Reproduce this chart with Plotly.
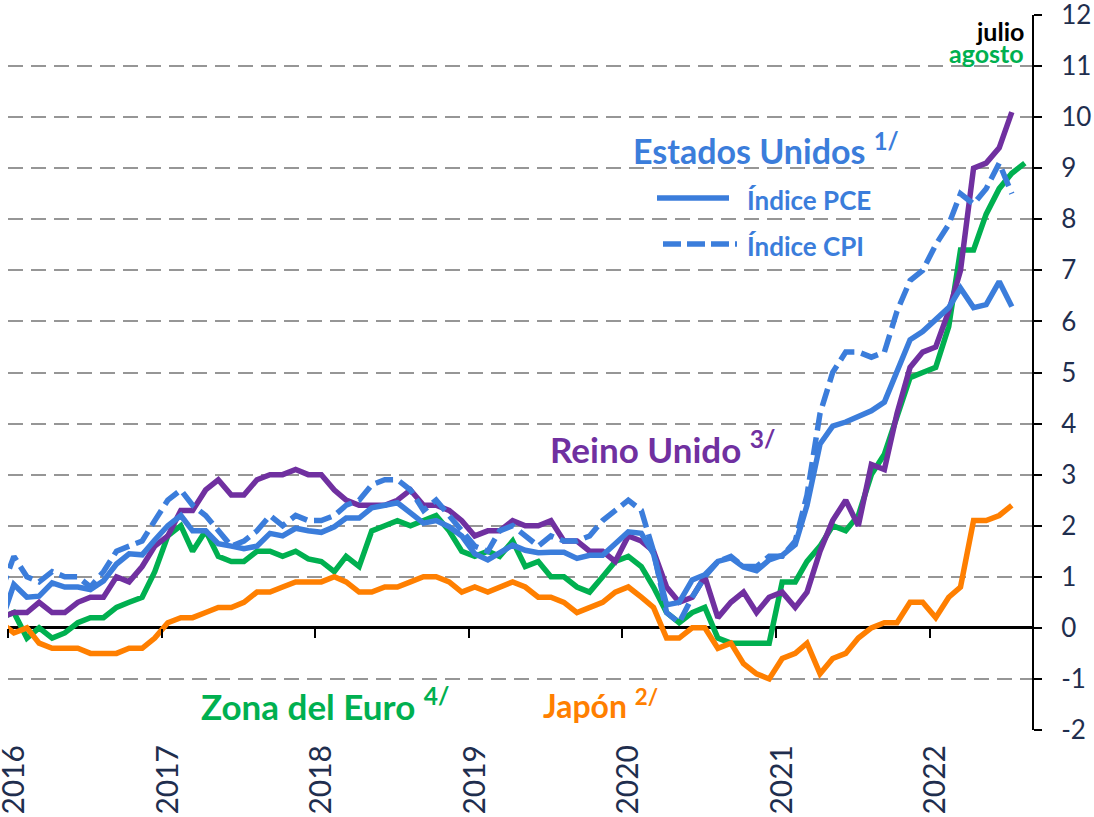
import pandas as pd
import plotly.graph_objects as go

# Monthly dates: Dec 2015 .. Aug 2022 (points plotted mid-month)
months = [d + pd.Timedelta(days=14) for d in pd.date_range("2015-12-01", "2022-08-01", freq="MS")]

# US PCE index, y/y % (Dec 2015 .. Jul 2022)
us_pce = [0.1,
          0.85, 0.6, 0.62, 0.88, 0.8, 0.8, 0.75, 0.92, 1.25, 1.45, 1.43, 1.72,
          2.0, 2.2, 1.9, 1.9, 1.65, 1.6, 1.55, 1.6, 1.85, 1.8, 1.95, 1.9,
          1.87, 1.98, 2.15, 2.15, 2.35, 2.4, 2.45, 2.25, 2.05, 2.1, 1.98, 1.8,
          1.45, 1.33, 1.46, 1.62, 1.52, 1.47, 1.48, 1.48, 1.36, 1.42, 1.42, 1.66,
          1.88, 1.85, 1.45, 0.45, 0.5, 0.94, 1.04, 1.3, 1.37, 1.19, 1.12, 1.33,
          1.42, 1.63, 2.4, 3.6, 3.95, 4.03, 4.15, 4.25, 4.42, 5.05, 5.64, 5.8,
          6.03, 6.27, 6.65, 6.27, 6.33, 6.78, 6.29]

# US CPI, y/y % (Dec 2015 .. Jul 2022)
us_cpi = [0.7,
          1.4, 1.0, 0.9, 1.1, 1.0, 1.0, 0.8, 1.1, 1.5, 1.6, 1.7, 2.1,
          2.5, 2.7, 2.4, 2.2, 1.9, 1.6, 1.7, 1.9, 2.2, 2.0, 2.2, 2.1,
          2.1, 2.2, 2.4, 2.5, 2.8, 2.9, 2.9, 2.7, 2.3, 2.5, 2.2, 1.9,
          1.6, 1.5, 1.9, 2.0, 1.8, 1.6, 1.8, 1.7, 1.7, 1.8, 2.1, 2.3,
          2.5, 2.3, 1.5, 0.3, 0.1, 0.6, 1.0, 1.3, 1.4, 1.2, 1.2, 1.4,
          1.4, 1.7, 2.6, 4.2, 5.0, 5.4, 5.4, 5.3, 5.4, 6.2, 6.8, 7.0,
          7.5, 7.9, 8.5, 8.3, 8.6, 9.1, 8.5]

# United Kingdom CPI, y/y % (Dec 2015 .. Jul 2022)
uk_cpi = [0.2,
          0.3, 0.3, 0.5, 0.3, 0.3, 0.5, 0.6, 0.6, 1.0, 0.9, 1.2, 1.6,
          1.8, 2.3, 2.3, 2.7, 2.9, 2.6, 2.6, 2.9, 3.0, 3.0, 3.1, 3.0,
          3.0, 2.7, 2.5, 2.4, 2.4, 2.4, 2.5, 2.7, 2.4, 2.4, 2.3, 2.1,
          1.8, 1.9, 1.9, 2.1, 2.0, 2.0, 2.1, 1.7, 1.7, 1.5, 1.5, 1.3,
          1.8, 1.7, 1.5, 0.8, 0.5, 0.6, 1.0, 0.2, 0.5, 0.7, 0.3, 0.6,
          0.7, 0.4, 0.7, 1.5, 2.1, 2.5, 2.0, 3.2, 3.1, 4.2, 5.1, 5.4,
          5.5, 6.2, 7.0, 9.0, 9.1, 9.4, 10.1]

# Euro area HICP, y/y % (Dec 2015 .. Aug 2022)
euro_hicp = [0.2,
             0.3, -0.2, 0.0, -0.2, -0.1, 0.1, 0.2, 0.2, 0.4, 0.5, 0.6, 1.1,
             1.8, 2.0, 1.5, 1.9, 1.4, 1.3, 1.3, 1.5, 1.5, 1.4, 1.5, 1.35,
             1.3, 1.1, 1.4, 1.2, 1.9, 2.0, 2.1, 2.0, 2.1, 2.2, 1.9, 1.5,
             1.4, 1.5, 1.4, 1.7, 1.2, 1.3, 1.0, 1.0, 0.8, 0.7, 1.0, 1.3,
             1.4, 1.2, 0.8, 0.3, 0.1, 0.3, 0.4, -0.2, -0.3, -0.3, -0.3, -0.3,
             0.9, 0.9, 1.3, 1.6, 2.0, 1.9, 2.2, 3.0, 3.4, 4.1, 4.9, 5.0,
             5.1, 5.9, 7.4, 7.4, 8.1, 8.6, 8.9, 9.1]

# Japan core CPI, y/y % (Dec 2015 .. Jul 2022)
japan_cpi = [0.1,
             -0.1, 0.0, -0.3, -0.4, -0.4, -0.4, -0.5, -0.5, -0.5, -0.4, -0.4, -0.2,
             0.1, 0.2, 0.2, 0.3, 0.4, 0.4, 0.5, 0.7, 0.7, 0.8, 0.9, 0.9,
             0.9, 1.0, 0.9, 0.7, 0.7, 0.8, 0.8, 0.9, 1.0, 1.0, 0.9, 0.7,
             0.8, 0.7, 0.8, 0.9, 0.8, 0.6, 0.6, 0.5, 0.3, 0.4, 0.5, 0.7,
             0.8, 0.6, 0.4, -0.2, -0.2, 0.0, 0.0, -0.4, -0.3, -0.7, -0.9, -1.0,
             -0.6, -0.5, -0.3, -0.9, -0.6, -0.5, -0.2, 0.0, 0.1, 0.1, 0.5, 0.5,
             0.2, 0.6, 0.8, 2.1, 2.1, 2.2, 2.4]

years = ["2016", "2017", "2018", "2019", "2020", "2021", "2022"]
year_ticks = [f"{y}-01-01" for y in years]
year_labels_pos = [f"{y}-01-15" for y in years]
y_ticks = list(range(-2, 13))
y_ticktext = [str(v) for v in y_ticks]

BLUE = "#3B7DDB"
PURPLE = "#7030A0"
GREEN = "#00B050"
ORANGE = "#FF7F00"
NAVY = "#1F2E4E"
FONT = "Lato"
LW = 5.5
DASH = "18px,7px"

fig = go.Figure()
fig.add_trace(go.Scatter(x=months[:len(euro_hicp)], y=euro_hicp, mode="lines",
                         line=dict(color=GREEN, width=LW), name="Zona del Euro"))
fig.add_trace(go.Scatter(x=months[:len(japan_cpi)], y=japan_cpi, mode="lines",
                         line=dict(color=ORANGE, width=LW), name="Japón"))
fig.add_trace(go.Scatter(x=months[:len(uk_cpi)], y=uk_cpi, mode="lines",
                         line=dict(color=PURPLE, width=LW), name="Reino Unido"))
fig.add_trace(go.Scatter(x=months[:len(us_cpi)], y=us_cpi, mode="lines",
                         line=dict(color=BLUE, width=LW, dash=DASH), name="Índice CPI"))
fig.add_trace(go.Scatter(x=months[:len(us_pce)], y=us_pce, mode="lines",
                         line=dict(color=BLUE, width=LW), name="Índice PCE"))

x_range = ["2016-01-01", "2022-09-01"]

fig.update_layout(
    width=1094, height=817,
    margin=dict(l=8, r=62, t=15, b=87, autoexpand=False),
    paper_bgcolor="white", plot_bgcolor="white",
    showlegend=False,
    font=dict(family=FONT, color=NAVY),
    xaxis=dict(type="date", range=x_range, showgrid=False, zeroline=False,
               showline=False, ticks="", tickvals=year_labels_pos, ticktext=years,
               tickangle=-90, tickfont=dict(family=FONT, size=30, color=NAVY),
               ticklabelstandoff=8, ticklabeloverflow="allow", automargin=False),
    xaxis2=dict(type="date", range=x_range, overlaying="x", anchor="free",
                position=(0 - (-2)) / 14, side="bottom", showgrid=False,
                zeroline=False, showline=False, ticks="outside", ticklen=9,
                tickwidth=2, tickcolor="black", tickvals=year_ticks,
                showticklabels=False, automargin=False),
    yaxis=dict(range=[-2, 12], side="right", tickvals=y_ticks, ticktext=y_ticktext,
               showgrid=True, gridcolor="#969696", gridwidth=2, griddash="15px,8px",
               zeroline=True, zerolinecolor="black", zerolinewidth=2.5,
               showline=True, linecolor="black", linewidth=2,
               ticks="outside", ticklen=8, tickwidth=2, tickcolor="black",
               tickfont=dict(family=FONT, size=26, color=NAVY),
               ticklabelstandoff=14, ticklabeloverflow="allow", automargin=False),
)
# empty trace so the zero-line tick axis is rendered
fig.add_trace(go.Scatter(x=[], y=[], xaxis="x2", yaxis="y", showlegend=False, hoverinfo="skip"))

# helpers: pixel -> paper fraction of the plot area (plot area: x 8..1032, y 15..730)
PW, PH, L, T = 1024, 715, 8, 15
def px(x):
    return (x - L) / PW
def py(y):
    return (T + PH - y) / PH

def ann(text, x, y, color, size, xanchor="left"):
    fig.add_annotation(text=text, x=px(x), y=py(y), xref="paper", yref="paper",
                       xanchor=xanchor, yanchor="middle", showarrow=False,
                       font=dict(family=FONT, size=size, color=color))

ann("<b>Estados Unidos <sup>1/</sup></b>", 631, 149, BLUE, 34)
ann("<b>Índice PCE</b>", 745, 200, BLUE, 26)
ann("<b>Índice CPI</b>", 745, 246, BLUE, 26)
ann("<b>Reino Unido <sup>3/</sup></b>", 548, 447, PURPLE, 35)
ann("<b>Zona del Euro <sup>4/</sup></b>", 199, 704, GREEN, 35)
ann("<b>Japón <sup>2/</sup></b>", 541, 704, ORANGE, 32)
ann("<b>julio</b>", 1026, 31, "black", 25, xanchor="right")
ann("<b>agosto</b>", 1026, 53, GREEN, 25, xanchor="right")

fig.add_shape(type="line", xref="paper", yref="paper", x0=px(657), x1=px(729),
              y0=py(198), y1=py(198), line=dict(color=BLUE, width=LW))
fig.add_shape(type="line", xref="paper", yref="paper", x0=px(663), x1=px(737),
              y0=py(244), y1=py(244), line=dict(color=BLUE, width=LW, dash="18px,6px"))

# remove the default 8px page margin so the figure fills the window exactly
fig.write_html("out.html",
               config={"displayModeBar": False},
               post_script="document.body.style.margin='0px';document.body.style.overflow='hidden';")
